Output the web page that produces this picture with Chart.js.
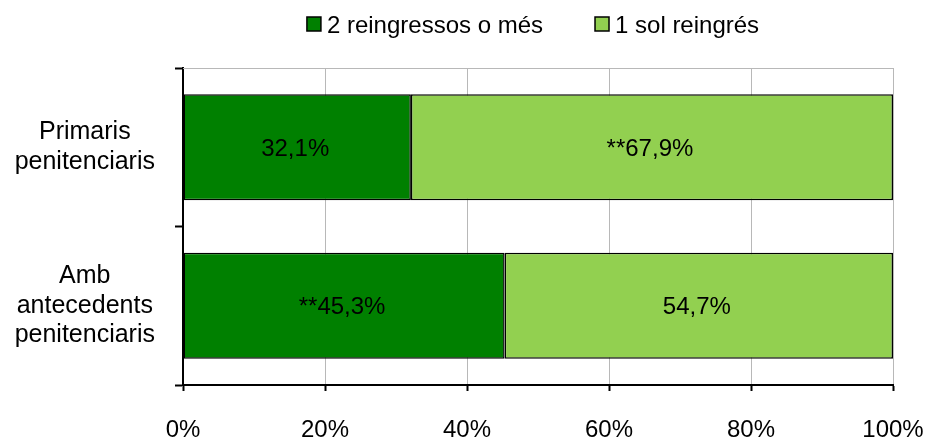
<!DOCTYPE html>
<html>
<head>
<meta charset="utf-8">
<script src="https://cdn.jsdelivr.net/npm/chart.js@4.4.0/dist/chart.umd.min.js"></script>
<style>
  html, body { margin: 0; padding: 0; background: #fff; }
  #wrap { width: 927px; height: 439px; }
</style>
</head>
<body>
<div id="wrap"><canvas id="reingressChart" width="927" height="439"></canvas></div>
<script>
// dades del gràfic
const categories = [['Primaris', 'penitenciaris'], ['Amb', 'antecedents', 'penitenciaris']];
const seriesNames = ['2 reingressos o més', '1 sol reingrés'];
const twoOrMore = [32.1, 45.3];
const onlyOne = [67.9, 54.7];
const marksTwoOrMore = ['', '**'];
const marksOnlyOne = ['**', ''];
const xTicks = [0, 20, 40, 60, 80, 100];

const FONT = '"Liberation Sans", Arial, sans-serif';
const darkGreen = '#008000';
const lightGreen = '#92D050';

// etiquetes dins de les barres
const barLabels = {
    id: 'barLabels',
    afterDatasetsDraw(chart) {
        const ctx = chart.ctx;
        const marks = [marksTwoOrMore, marksOnlyOne];
        ctx.save();
        ctx.font = '24px ' + FONT;
        ctx.fillStyle = '#000';
        ctx.textAlign = 'center';
        ctx.textBaseline = 'middle';
        chart.data.datasets.forEach((ds, i) => {
            chart.getDatasetMeta(i).data.forEach((bar, j) => {
                const p = bar.getCenterPoint();
                const txt = marks[i][j] + ds.data[j].toFixed(1).replace('.', ',') + '%';
                ctx.fillText(txt, p.x - 2, p.y + 2);
            });
        });
        ctx.restore();
    }
};

// línia grisa de dalt de l'àrea del gràfic
const topBorder = {
    id: 'topBorder',
    beforeDatasetsDraw(chart) {
        const a = chart.chartArea;
        const ctx = chart.ctx;
        ctx.save();
        ctx.strokeStyle = '#b8b8b8';
        ctx.lineWidth = 1;
        ctx.beginPath();
        ctx.moveTo(a.left, a.top + 0.5);
        ctx.lineTo(a.right, a.top + 0.5);
        ctx.stroke();
        ctx.restore();
    }
};

// llegenda a mida
const customLegend = {
    id: 'customLegend',
    afterDraw(chart) {
        const ctx = chart.ctx;
        const a = chart.chartArea;
        const box = 14, gapText = 6, gapItems = 52;
        ctx.save();
        ctx.font = '24px ' + FONT;
        const widths = chart.data.datasets.map(ds => box + gapText + ctx.measureText(ds.label).width);
        const total = widths.reduce((s, w) => s + w, 0) + gapItems * (widths.length - 1);
        let x = (a.left + a.right) / 2 - total / 2 - 5;
        const y = 26;
        chart.data.datasets.forEach((ds, i) => {
            ctx.fillStyle = ds.backgroundColor;
            ctx.fillRect(x, y - 9, box, box);
            ctx.strokeStyle = '#000';
            ctx.lineWidth = 1.5;
            ctx.strokeRect(x, y - 9, box, box);
            ctx.fillStyle = '#000';
            ctx.textAlign = 'left';
            ctx.textBaseline = 'middle';
            ctx.fillText(ds.label, x + box + gapText, y);
            x += widths[i] + gapItems;
        });
        ctx.restore();
    }
};

const ctx = document.getElementById('reingressChart').getContext('2d');

const reingressChart = new Chart(ctx, {
    type: 'bar',
    data: {
        labels: categories,
        datasets: [{
            label: seriesNames[0],
            data: twoOrMore,
            backgroundColor: darkGreen,
            borderColor: '#000',
            borderWidth: 1.5,
            borderSkipped: false
        }, {
            label: seriesNames[1],
            data: onlyOne,
            backgroundColor: lightGreen,
            borderColor: '#000',
            borderWidth: 1.5,
            borderSkipped: false
        }]
    },
    options: {
        indexAxis: 'y',
        responsive: false,
        animation: false,
        layout: { padding: { top: 68, right: 34, left: 0, bottom: 0 } },
        datasets: { bar: { barPercentage: 0.67, categoryPercentage: 1 } },
        scales: {
            x: {
                stacked: true,
                min: 0,
                max: 100,
                afterBuildTicks: function(scale) {
                    scale.ticks = xTicks.map(v => ({ value: v }));
                },
                afterFit: function(scale) {
                    scale.height = 54;
                    scale.paddingLeft = 0;
                    scale.paddingRight = 0;
                },
                grid: {
                    color: '#b8b8b8',
                    lineWidth: 1,
                    tickColor: '#000',
                    tickLength: 6,
                    tickWidth: 2
                },
                border: { color: '#000', width: 2 },
                ticks: {
                    color: '#000',
                    padding: 25,
                    font: { family: FONT, size: 24 },
                    callback: v => v + '%'
                }
            },
            y: {
                stacked: true,
                afterFit: function(scale) {
                    scale.width = 183;
                    scale.paddingTop = 0;
                    scale.paddingBottom = 0;
                },
                grid: {
                    offset: true,
                    drawOnChartArea: false,
                    tickColor: '#000',
                    tickLength: 8,
                    tickWidth: 2
                },
                border: { color: '#000', width: 2 },
                ticks: {
                    color: '#000',
                    crossAlign: 'center',
                    padding: 20,
                    font: { family: FONT, size: 25, lineHeight: 1.18 }
                }
            }
        },
        plugins: {
            legend: { display: false },
            tooltip: { enabled: false }
        }
    },
    plugins: [topBorder, barLabels, customLegend]
});
</script>
</body>
</html>
